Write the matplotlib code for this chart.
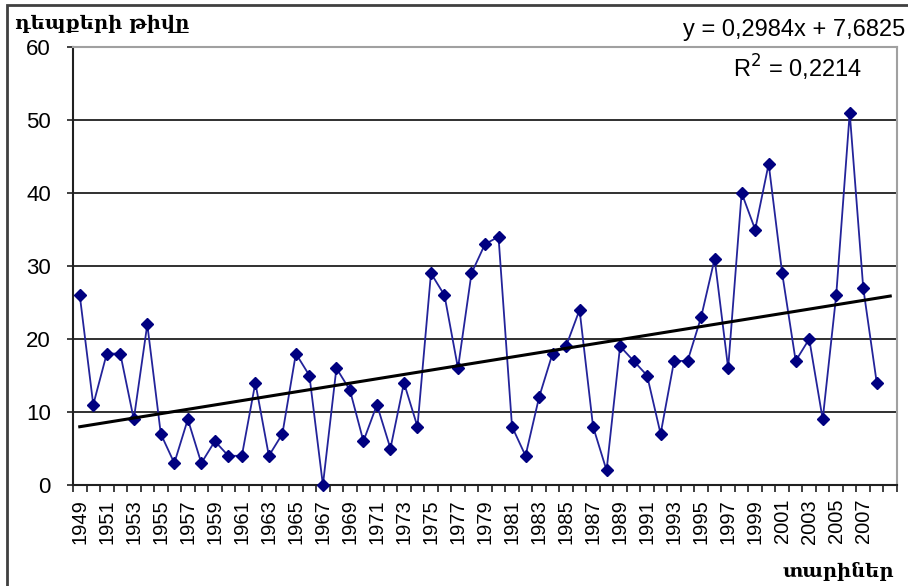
import numpy as np
import matplotlib.pyplot as plt
from matplotlib.patches import Rectangle

# Data
years = list(range(1949, 2009))
cases = [26, 11, 18, 18, 9, 22, 7, 3, 9, 3,
         6, 4, 4, 14, 4, 7, 18, 15, 0, 16,
         13, 6, 11, 5, 14, 8, 29, 26, 16, 29,
         33, 34, 8, 4, 12, 18, 19, 24, 8, 2,
         19, 17, 15, 7, 17, 17, 23, 31, 16, 40,
         35, 44, 29, 17, 20, 9, 26, 51, 27, 14]
slope, intercept, r2 = 0.2984, 7.6825, 0.2214
y_ticks = [0, 10, 20, 30, 40, 50, 60]
ylabel = 'դեպքերի թիվը'
xlabel = 'տարիներ'

armenian = ['DejaVu Serif', 'DejaVu Sans']
plt.rcParams['font.family'] = ['Liberation Sans', 'DejaVu Sans']

fig = plt.figure(figsize=(9.08, 5.86), dpi=100)
ax = fig.add_axes([73 / 908, 1 - 485 / 586, (897 - 73) / 908, (485 - 47) / 586])

idx = np.arange(len(years))
ax.plot(idx, cases, color='#23239a', lw=1.3, marker='D', ms=6,
        mec='#000080', mfc='#000080', zorder=3, clip_on=False)

# linear trend (Excel style, forecast 1 period forward)
tx = np.array([0, len(years)])
ax.plot(tx, slope * (tx + 1) + intercept, color='black', lw=2.2, zorder=4)

ax.set_xlim(-0.5, len(years) + 0.5)
ax.set_ylim(0, 60)
ax.set_yticks(y_ticks)
ax.set_yticklabels([str(v) for v in y_ticks], fontsize=16)
for v in y_ticks[1:-1]:
    ax.axhline(v, color='#303030', lw=1.4, zorder=1)

ax.set_xticks(idx[::2])
ax.set_xticklabels([str(y) for y in years[::2]], rotation=90, fontsize=14.5)
ax.set_xticks(np.arange(-0.5, len(years) + 1), minor=True)
ax.tick_params(axis='x', which='major', length=0, pad=10)
ax.tick_params(axis='x', which='minor', length=5, width=1.2, direction='out', color='#202020')
ax.tick_params(axis='y', length=4, width=1.2, pad=12, color='#202020')

for side in ['top', 'right']:
    ax.spines[side].set_color('#a0a0a0')
    ax.spines[side].set_linewidth(1.5)
for side in ['left', 'bottom']:
    ax.spines[side].set_color('#202020')
    ax.spines[side].set_linewidth(1.5)

fig.text(905 / 908, 1 - 30 / 586, 'y = 0,2984x + 7,6825', fontsize=17,
         ha='right', va='center')
fig.text(733 / 908, 1 - 68 / 586, 'R$^2$ = 0,2214', fontsize=17,
         ha='left', va='center')

fig.text(15 / 908, 1 - 24 / 586, ylabel, family=armenian, fontweight='bold',
         fontsize=14, ha='left', va='center')
fig.text(894 / 908, 1 - 571 / 586, xlabel, family=armenian, fontweight='bold',
         fontsize=14, ha='right', va='center')

# outer chart border
fig.patches.append(Rectangle((7 / 908, -0.1), 1.2, 1 - 5 / 586 + 0.1,
                             transform=fig.transFigure, fill=False,
                             ec='#404040', lw=2))

fig.savefig('out.png', dpi=100)
